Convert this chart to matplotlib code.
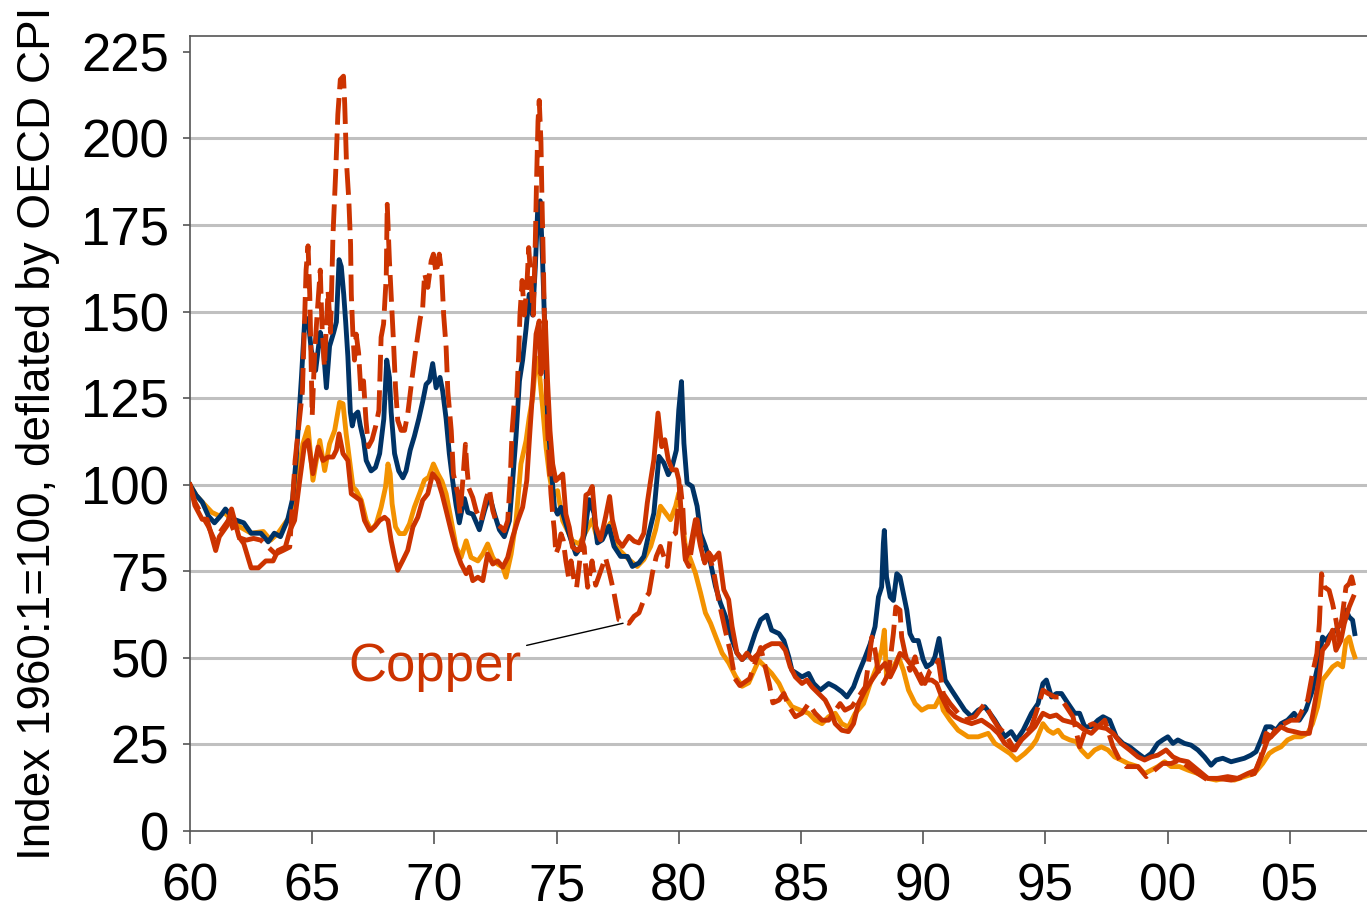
import matplotlib
matplotlib.use("Agg")
import matplotlib.pyplot as plt
from matplotlib import font_manager

# 실질 가격 지수 (1960:1 = 100, OECD CPI로 디플레이트)
blue_t = [1960.0, 1960.25, 1960.5, 1960.75, 1961.0, 1961.25, 1961.45, 1961.8, 1962.2, 1962.5, 1962.9, 1963.2,
          1963.45, 1963.7, 1964.0, 1964.2, 1964.35, 1964.56, 1964.69, 1964.83, 1964.96, 1965.14, 1965.33, 1965.44,
          1965.58, 1965.71, 1965.88, 1965.99, 1966.1, 1966.19, 1966.29, 1966.37, 1966.46, 1966.56, 1966.64, 1966.73,
          1966.87, 1966.97, 1967.1, 1967.21, 1967.41, 1967.59, 1967.76, 1967.93, 1968.05, 1968.16, 1968.23, 1968.37,
          1968.54, 1968.71, 1968.84, 1969.01, 1969.18, 1969.36, 1969.52, 1969.66, 1969.8, 1969.93, 1970.07, 1970.23,
          1970.34, 1970.48, 1970.61, 1970.75, 1970.89, 1971.02, 1971.16, 1971.23, 1971.37, 1971.57, 1971.84, 1972.05,
          1972.25, 1972.46, 1972.66, 1972.86, 1973.07, 1973.2, 1973.34, 1973.48, 1973.61, 1973.75, 1973.88, 1974.02,
          1974.13, 1974.23, 1974.33, 1974.43, 1974.54, 1974.63, 1974.77, 1974.91, 1975.04, 1975.18, 1975.38, 1975.59,
          1975.79, 1976.0, 1976.15, 1976.33, 1976.53, 1976.67, 1976.87, 1977.14, 1977.35, 1977.62, 1977.9, 1978.1,
          1978.37, 1978.57, 1978.78, 1978.98, 1979.19, 1979.39, 1979.57, 1979.73, 1979.9, 1980.0, 1980.11, 1980.21,
          1980.34, 1980.55, 1980.75, 1980.89, 1981.09, 1981.3, 1981.5, 1981.7, 1981.91, 1982.18, 1982.38, 1982.59,
          1982.86, 1983.13, 1983.35, 1983.6, 1983.8, 1984.1, 1984.3, 1984.5, 1984.63, 1984.83, 1985.04, 1985.31,
          1985.52, 1985.79, 1986.13, 1986.4, 1986.67, 1986.88, 1987.15, 1987.35, 1987.63, 1987.83, 1988.03, 1988.17,
          1988.3, 1988.37, 1988.41, 1988.5, 1988.65, 1988.78, 1988.92, 1989.05, 1989.19, 1989.33, 1989.46, 1989.6,
          1989.8, 1990.0, 1990.14, 1990.35, 1990.48, 1990.65, 1990.76, 1990.9, 1991.16, 1991.43, 1991.7, 1991.98,
          1992.25, 1992.52, 1992.73, 1992.93, 1993.34, 1993.6, 1993.82, 1994.09, 1994.43, 1994.7, 1994.9, 1995.04,
          1995.25, 1995.45, 1995.66, 1995.93, 1996.2, 1996.4, 1996.61, 1996.88, 1997.15, 1997.36, 1997.63, 1997.9,
          1998.17, 1998.45, 1998.79, 1999.06, 1999.33, 1999.6, 1999.8, 2000.01, 2000.22, 2000.42, 2000.69, 2000.96,
          2001.24, 2001.51, 2001.78, 2001.99, 2002.26, 2002.6, 2002.87, 2003.14, 2003.41, 2003.62, 2003.82, 2004.03,
          2004.23, 2004.44, 2004.64, 2004.91, 2005.18, 2005.39, 2005.66, 2005.93, 2006.14, 2006.34, 2006.48, 2006.68,
          2006.89, 2007.09, 2007.3, 2007.43, 2007.57, 2007.66]
blue_v = [100, 97, 95, 91, 89, 91, 93, 90, 89, 86, 86, 83.5,
          86, 85, 90, 96, 108, 131, 147, 148, 139, 133, 144, 141,
          128, 140, 144, 147, 165, 163, 155, 147, 137, 121, 117, 120,
          121, 117, 113, 107, 104, 105, 109, 119, 136, 131, 121, 109,
          104, 102, 104, 110, 114, 119, 124, 129, 130, 135, 128, 131,
          127, 119, 109, 101, 94, 89, 94, 96, 92, 91.5, 87, 92.5,
          97, 91.5, 87, 85, 89.6, 101, 114, 130, 136, 145, 155, 149,
          163, 180, 182, 164, 140, 120, 106, 93.5, 91.5, 93.5, 88.7, 84,
          80, 82, 86, 95.7, 91.8, 83.2, 84.1, 88, 82.2, 79.3, 79.3, 76.4,
          77.4, 79.3, 86, 91.8, 108.2, 106.3, 102.9, 105.3, 110, 121.6, 129.8, 112,
          100.5, 99.5, 93.8, 86, 82.2, 77.4, 70.7, 65.9, 62, 55.3, 51.4, 49.5,
          51.4, 57.2, 61, 62.3, 58, 57, 55, 50.3, 46.4, 45.5, 44.5, 45.5,
          42.6, 40.7, 42.6, 41.6, 40.2, 38.7, 41.6, 45.5, 50.3, 54, 59, 67.6,
          70.5, 83, 86.8, 73.4, 67.6, 66.6, 74.3, 73.4, 68.6, 63.8, 57, 55,
          55, 49.5, 47.4, 48.4, 50.3, 55.6, 50.3, 43.6, 40.7, 37.8, 34.9, 33,
          34.9, 35.9, 34, 32, 27.2, 28.7, 26.3, 29.1, 34, 36.8, 42.6, 43.6,
          38.7, 39.7, 39.7, 36.8, 34, 34, 30.1, 30.1, 32, 33, 32, 27.2,
          25.3, 24.3, 22.4, 21, 22.4, 25.3, 26.3, 27.2, 25.3, 26.3, 25.3, 24.8,
          23.4, 21.4, 19, 20.5, 21, 20, 20.5, 21, 21.9, 22.9, 26.3, 30.1,
          30.1, 29.1, 31, 32, 34, 32, 35, 40.7, 47.4, 56, 55, 57,
          58, 59.9, 63.8, 61.8, 60.9, 57]

orange_t = [1960.0, 1960.25, 1960.5, 1960.9, 1961.2, 1961.4, 1961.7, 1962.0, 1962.5, 1963.0, 1963.3, 1963.6,
            1964.1, 1964.35, 1964.62, 1964.83, 1965.03, 1965.31, 1965.51, 1965.71, 1965.92, 1966.12, 1966.26, 1966.39,
            1966.53, 1966.67, 1966.8, 1967.01, 1967.21, 1967.41, 1967.62, 1967.82, 1968.0, 1968.1, 1968.19, 1968.27,
            1968.41, 1968.57, 1968.78, 1968.98, 1969.18, 1969.39, 1969.59, 1969.77, 1969.96, 1970.14, 1970.31, 1970.48,
            1970.68, 1970.89, 1971.09, 1971.3, 1971.5, 1971.78, 1971.98, 1972.18, 1972.39, 1972.59, 1972.8, 1972.93,
            1973.14, 1973.34, 1973.54, 1973.75, 1973.88, 1974.02, 1974.16, 1974.29, 1974.43, 1974.57, 1974.7, 1974.84,
            1975.04, 1975.25, 1975.45, 1975.65, 1975.93, 1976.2, 1976.46, 1976.67, 1976.94, 1977.21, 1977.42, 1977.69,
            1977.96, 1978.3, 1978.57, 1978.85, 1979.05, 1979.25, 1979.46, 1979.66, 1979.87, 1980.0, 1980.14, 1980.27,
            1980.48, 1980.68, 1980.89, 1981.09, 1981.3, 1981.5, 1981.77, 1982.04, 1982.32, 1982.59, 1982.86, 1983.27,
            1983.54, 1983.8, 1984.1, 1984.36, 1984.63, 1984.97, 1985.31, 1985.58, 1985.86, 1986.13, 1986.4, 1986.67,
            1986.94, 1987.22, 1987.56, 1987.83, 1988.1, 1988.3, 1988.41, 1988.5, 1988.72, 1988.99, 1989.19, 1989.4,
            1989.67, 1989.94, 1990.2, 1990.48, 1990.69, 1990.82, 1991.1, 1991.43, 1991.84, 1992.25, 1992.66, 1992.93,
            1993.34, 1993.55, 1993.82, 1994.16, 1994.43, 1994.63, 1994.9, 1995.11, 1995.32, 1995.52, 1995.72, 1996.0,
            1996.27, 1996.47, 1996.74, 1997.02, 1997.29, 1997.56, 1997.83, 1998.1, 1998.38, 1998.79, 1999.06, 1999.33,
            1999.6, 1999.88, 2000.15, 2000.49, 2000.83, 2001.24, 2001.65, 2001.99, 2002.33, 2002.73, 2003.14, 2003.55,
            2003.89, 2004.16, 2004.37, 2004.64, 2004.91, 2005.18, 2005.46, 2005.73, 2005.93, 2006.14, 2006.34, 2006.55,
            2006.75, 2006.96, 2007.16, 2007.3, 2007.43, 2007.57, 2007.66]
orange_v = [100, 97, 95, 92, 91, 92, 90, 88, 86, 86.5, 84, 86,
            91, 99.3, 111.8, 116.6, 101.3, 112.8, 104.1, 111.8, 115.7, 123.8, 123.4, 114.7,
            107, 99.3, 98.4, 95.5, 89.7, 86.8, 88.7, 93.5, 99.3, 106, 103.2, 94.5,
            87.8, 85.9, 85.9, 88.7, 93.5, 97.4, 101.3, 102.2, 106, 103.2, 101, 97.4,
            90, 82, 79, 83.8, 79, 78, 80, 82.9, 79, 77.1, 76.2, 73.3,
            80, 89.6, 106, 112.7, 119.4, 125.2, 136.7, 132.9, 122.3, 110.8, 103.1, 97.3,
            98.3, 89.6, 86.7, 83.8, 82.9, 86.5, 89.9, 84.1, 86, 89, 82.2, 80.3,
            78.4, 76.4, 78.4, 82.2, 87, 93.8, 91.8, 89.9, 93.8, 97.6, 89.9, 82.2,
            78.4, 74.5, 68.8, 63, 60, 56.3, 51.4, 48.6, 44.7, 41.8, 42.8, 49.3,
            47.4, 45.5, 42.6, 38.7, 35.9, 34.9, 34, 32, 31, 33, 34, 31,
            30, 34, 36.8, 42.6, 47.4, 52.2, 58, 44.5, 46.4, 50.3, 46.4, 40.7,
            36.8, 34.9, 35.9, 35.9, 38.7, 34.9, 32, 29.1, 27.2, 27.2, 28.2, 25.3,
            23.4, 22.4, 20.5, 22.4, 24.3, 26.3, 31, 29.1, 28.2, 29.1, 27.2, 26.3,
            25.8, 23.4, 21.4, 23.4, 24.3, 23.4, 21.4, 20.5, 19.5, 18.6, 16.6, 17.6,
            18.6, 20, 18.6, 18.6, 17.6, 16.6, 15.2, 14.7, 15.2, 14.7, 15.7, 16.6,
            19.5, 22.4, 23.4, 24.3, 26.3, 27.2, 27.2, 28.2, 31, 35.9, 43.6, 45.5,
            47.4, 48.4, 47.4, 55, 56, 52.2, 50.3]

red_t = [1960.0, 1960.2, 1960.5, 1960.7, 1961.05, 1961.2, 1961.5, 1961.7, 1962.0, 1962.2, 1962.5, 1962.8,
         1963.1, 1963.4, 1963.6, 1963.9, 1964.1, 1964.28, 1964.49, 1964.69, 1964.83, 1965.03, 1965.24, 1965.44,
         1965.65, 1965.85, 1965.99, 1966.1, 1966.26, 1966.46, 1966.6, 1966.8, 1966.97, 1967.14, 1967.35, 1967.55,
         1967.76, 1967.96, 1968.1, 1968.23, 1968.37, 1968.5, 1968.71, 1968.91, 1969.12, 1969.32, 1969.52, 1969.73,
         1969.93, 1970.14, 1970.31, 1970.48, 1970.68, 1970.89, 1971.09, 1971.3, 1971.43, 1971.57, 1971.78, 1971.98,
         1972.18, 1972.39, 1972.59, 1972.8, 1973.0, 1973.2, 1973.41, 1973.61, 1973.78, 1973.91, 1974.05, 1974.16,
         1974.29, 1974.36, 1974.46, 1974.54, 1974.63, 1974.73, 1974.84, 1974.97, 1975.11, 1975.25, 1975.38, 1975.52,
         1975.65, 1975.86, 1976.06, 1976.2, 1976.33, 1976.46, 1976.6, 1976.8, 1977.01, 1977.17, 1977.28, 1977.48,
         1977.69, 1977.96, 1978.17, 1978.37, 1978.57, 1978.71, 1978.85, 1978.98, 1979.15, 1979.3, 1979.43, 1979.57,
         1979.73, 1979.9, 1980.0, 1980.14, 1980.27, 1980.48, 1980.68, 1980.89, 1981.06, 1981.23, 1981.43, 1981.64,
         1981.84, 1982.04, 1982.18, 1982.38, 1982.59, 1982.79, 1983.0, 1983.27, 1983.54, 1983.8, 1984.15, 1984.36,
         1984.56, 1984.77, 1985.04, 1985.24, 1985.45, 1985.72, 1985.99, 1986.2, 1986.4, 1986.67, 1986.94, 1987.15,
         1987.35, 1987.63, 1987.9, 1988.17, 1988.44, 1988.65, 1988.85, 1989.05, 1989.26, 1989.46, 1989.67, 1989.94,
         1990.14, 1990.35, 1990.55, 1990.76, 1991.03, 1991.3, 1991.57, 1991.98, 1992.39, 1992.8, 1993.07, 1993.34,
         1993.68, 1994.02, 1994.3, 1994.57, 1994.9, 1995.18, 1995.45, 1995.72, 1996.0, 1996.27, 1996.61, 1996.88,
         1997.15, 1997.5, 1997.77, 1998.1, 1998.45, 1998.79, 1999.06, 1999.33, 1999.6, 1999.94, 2000.22, 2000.49,
         2000.83, 2001.24, 2001.65, 2002.05, 2002.46, 2002.87, 2003.28, 2003.62, 2003.89, 2004.09, 2004.37, 2004.64,
         2004.91, 2005.18, 2005.46, 2005.8, 2006.0, 2006.21, 2006.34, 2006.55, 2006.75, 2006.89, 2007.09, 2007.23,
         2007.43, 2007.6]
red_v = [100, 94, 90, 90, 81, 85, 88, 93, 85, 83, 76, 76,
         78, 78, 81, 82, 87, 89.7, 101.3, 111.8, 112.8, 103.2, 110.9, 107,
         108, 108, 110, 114.7, 109, 107, 97.4, 96.4, 95.5, 89.7, 86.8, 87.8,
         89.7, 90.6, 89.7, 83.9, 79.1, 75.3, 78.2, 81.1, 87.8, 90.6, 95.5, 97.4,
         103.2, 101.3, 97.4, 92.6, 86.8, 81.1, 77.2, 74.3, 76.2, 72.3, 73.3, 72.3,
         80, 77.1, 78, 76.2, 79, 84.8, 89.6, 93.5, 101.2, 115.6, 130, 143.5,
         147.3, 132, 141.5, 147.3, 130, 115.6, 106, 101.2, 102.1, 103.1, 91.5, 87.7,
         82, 81, 82.9, 97, 97.6, 99.5, 88, 84.1, 90.9, 96.6, 89.9, 84.1,
         82.2, 85.1, 83.7, 83.2, 86, 94.7, 101.4, 107.2, 120.7, 111, 113, 107.2,
         104.3, 104.3, 101.4, 88, 78.4, 82.2, 89.9, 82.2, 77.4, 80.3, 78.4, 80.3,
         69.7, 66.8, 59.1, 51.4, 49.5, 51.4, 49.5, 51.3, 53.2, 54.1, 54.1, 52.2,
         47.4, 44.5, 42.6, 43.6, 41.6, 39.7, 37.8, 34.9, 31, 29.1, 28.7, 31,
         36.8, 40.7, 43.6, 46.4, 48.4, 44.5, 47.4, 51.3, 50.3, 48.4, 46.4, 42.6,
         43.6, 43.6, 42.6, 38.7, 34.9, 33, 32, 31, 32, 30, 28.2, 25.3,
         23.4, 26.3, 28.2, 30.1, 34, 33, 33.5, 32, 31.5, 31, 29.1, 28.2,
         30.1, 29.6, 28.2, 25.3, 23.4, 21.4, 20.5, 21.4, 21.9, 23.4, 21.4, 20.5,
         20, 17.6, 15.2, 15.2, 15.7, 15.2, 16.6, 17.6, 22.4, 26.3, 28.2, 30.1,
         29.1, 28.7, 28.2, 28.2, 35.9, 44.5, 52.2, 54.1, 58, 52.2, 55, 59.9,
         64.7, 67.6]

copper_t = [1960.0, 1960.2, 1960.5, 1960.75, 1961.0, 1961.3, 1961.6, 1961.9, 1962.3, 1962.6, 1962.9, 1963.2,
            1963.5, 1963.8, 1964.08, 1964.3, 1964.6, 1964.7, 1964.75, 1964.83, 1964.9, 1965.0, 1965.1, 1965.2,
            1965.33, 1965.4, 1965.5, 1965.65, 1965.75, 1965.85, 1965.96, 1966.05, 1966.15, 1966.28, 1966.33, 1966.4,
            1966.5, 1966.57, 1966.6, 1966.67, 1966.73, 1966.8, 1966.9, 1967.0, 1967.1, 1967.2, 1967.3, 1967.45,
            1967.6, 1967.73, 1967.82, 1967.92, 1968.03, 1968.07, 1968.16, 1968.23, 1968.33, 1968.41, 1968.5, 1968.64,
            1968.78, 1968.91, 1969.09, 1969.25, 1969.42, 1969.52, 1969.6, 1969.73, 1969.87, 1969.96, 1970.07, 1970.2,
            1970.3, 1970.38, 1970.48, 1970.55, 1970.69, 1970.78, 1970.96, 1971.05, 1971.16, 1971.27, 1971.33, 1971.41,
            1971.57, 1971.71, 1971.91, 1972.12, 1972.25, 1972.39, 1972.55, 1972.73, 1972.86, 1973.0, 1973.1, 1973.18,
            1973.27, 1973.37, 1973.45, 1973.5, 1973.59, 1973.68, 1973.78, 1973.86, 1973.95, 1974.05, 1974.13, 1974.18,
            1974.24, 1974.29, 1974.36, 1974.4, 1974.46, 1974.51, 1974.57, 1974.63, 1974.7, 1974.77, 1974.84, 1974.91,
            1974.97, 1975.08, 1975.18, 1975.27, 1975.38, 1975.49, 1975.59, 1975.72, 1975.82, 1975.93, 1976.04, 1976.13,
            1976.2, 1976.27, 1976.45, 1976.6, 1976.8, 1977.0, 1977.15, 1977.35, 1977.55, 1977.75, 1977.96, 1978.17,
            1978.37, 1978.57, 1978.78, 1978.92, 1979.08, 1979.25, 1979.53, 1979.66, 1979.87, 1980.0, 1980.07, 1980.17,
            1980.27, 1980.41, 1980.62, 1980.75, 1980.89, 1981.02, 1981.23, 1981.45, 1981.65, 1981.9, 1982.1, 1982.3,
            1982.5, 1982.7, 1982.9, 1983.14, 1983.35, 1983.55, 1983.7, 1983.85, 1984.1, 1984.3, 1984.5, 1984.77,
            1985.04, 1985.31, 1985.58, 1985.86, 1986.13, 1986.33, 1986.6, 1986.8, 1987.08, 1987.35, 1987.63, 1987.9,
            1988.03, 1988.17, 1988.37, 1988.58, 1988.78, 1988.88, 1989.05, 1989.12, 1989.26, 1989.46, 1989.67, 1989.8,
            1990.07, 1990.28, 1990.48, 1990.62, 1990.82, 1991.1, 1991.43, 1991.7, 1992.12, 1992.52, 1992.8, 1993.07,
            1993.34, 1993.75, 1994.09, 1994.43, 1994.7, 1994.9, 1995.11, 1995.38, 1995.59, 1995.86, 1996.13, 1996.4,
            1996.68, 1996.95, 1997.15, 1997.43, 1997.77, 1998.04, 1998.31, 1998.79, 1999.13, 1999.47, 1999.8, 2000.15,
            2000.49, 2000.83, 2001.24, 2001.65, 2002.05, 2002.6, 2003.14, 2003.55, 2003.82, 2004.03, 2004.23, 2004.5,
            2004.78, 2005.05, 2005.32, 2005.52, 2005.73, 2005.93, 2006.11, 2006.21, 2006.3, 2006.41, 2006.61, 2006.75,
            2006.89, 2007.02, 2007.16, 2007.3, 2007.43, 2007.53, 2007.66]
copper_v = [100, 95, 91, 88, 84, 87, 90, 85, 84, 84.5, 84, 82,
            80, 81, 82, 107, 127, 150, 162, 169, 155, 120, 138, 149,
            162, 146, 134, 156, 144, 172, 190, 207, 217, 218, 210, 193.5,
            182, 169.5, 155, 142.6, 136, 143.5, 138, 126, 130, 118.6, 111, 113,
            117, 121.5, 142.6, 146.4, 160, 181, 164.7, 155, 140.7, 128, 118.6, 115.7,
            115.7, 120.5, 131, 139.7, 148, 151, 161, 157, 164.7, 166.6, 161, 166.6,
            161, 149, 139.6, 127, 115.6, 103, 97.3, 91.5, 101, 111.7, 105, 99,
            96.3, 92.5, 89.6, 96, 98.8, 92.5, 88.7, 87.7, 86.7, 89.6, 101, 115.6,
            124, 125, 137.7, 149, 159, 149, 157, 168.5, 159, 149, 170.4, 187.7,
            205, 211, 199, 183, 163.7, 144.4, 130, 116.5, 106, 97.4, 91.5, 86.7,
            80, 82, 85.8, 84, 78, 73.3, 78, 72.3, 70.4, 77, 84, 82,
            75.2, 70.4, 78, 71, 75, 79, 75, 68.7, 61, 60.5, 60, 62,
            63, 66.8, 68.7, 74.5, 79.3, 82.2, 76.4, 85, 86, 95.7, 99.5, 92.8,
            78.4, 76.4, 86, 89.9, 84, 78.4, 80.3, 74, 66, 58, 52, 44,
            42, 43, 44, 49, 53, 47, 42.6, 37, 37.8, 39.7, 36, 33,
            34, 36.8, 34, 32, 32, 34, 36.8, 34.9, 35.9, 38.7, 41.6, 56,
            52.2, 45.5, 42.6, 45.5, 57, 64.7, 63.8, 56, 51.3, 46.4, 50.3, 46.4,
            42.6, 46.4, 47.4, 49.3, 39.7, 36.8, 34, 32, 33, 36.8, 33, 30,
            28.2, 23.4, 27.2, 30.1, 35.9, 40.7, 39.7, 38.7, 38.7, 35.9, 33, 24.3,
            30.1, 31, 30.1, 32, 24.3, 20.5, 18.6, 18.6, 15.7, 17.6, 19.5, 19.5,
            20.5, 18.6, 16.6, 14.7, 15.2, 14.7, 15.7, 16.6, 21.4, 28.2, 27.2, 30.1,
            31, 32, 32, 35, 37.8, 45.5, 51.3, 59.9, 74.3, 70.5, 69.5, 65.7,
            60.9, 55, 62.8, 70.5, 71.4, 73.4, 69.5]

year_ticks = [1960, 1965, 1970, 1975, 1980, 1985, 1990, 1995, 2000, 2005]
year_labels = ["60", "65", "70", "75", "80", "85", "90", "95", "00", "05"]
y_ticks = [0, 25, 50, 75, 100, 125, 150, 175, 200, 225]

c_blue = "#003366"
c_orange = "#f39200"
c_red = "#cc3300"

names = {f.name for f in font_manager.fontManager.ttflist}
narrow = "Liberation Sans Narrow" if "Liberation Sans Narrow" in names else "Liberation Sans"
plt.rcParams['font.family'] = ['Liberation Sans', 'DejaVu Sans']

fig = plt.figure(figsize=(13.67, 9.15), dpi=100)
ax = fig.add_axes([190 / 1367, 84 / 915, 1177 / 1367, 795 / 915])

lw = 3.5
ax.plot(orange_t, orange_v, color=c_orange, lw=lw, zorder=3)
ax.plot(blue_t, blue_v, color=c_blue, lw=lw, zorder=4)
ax.plot(red_t, red_v, color=c_red, lw=lw, zorder=5)
ax.plot(copper_t, copper_v, color=c_red, lw=lw, dashes=(5.5, 1.8), zorder=6)

ax.set_xlim(1960, 2008.16)
ax.set_ylim(0, 229.6)
ax.set_xticks(year_ticks)
ax.set_xticklabels(year_labels)
ax.set_yticks(y_ticks)

# 가로 격자선 (0과 225 제외)
for v in y_ticks[1:-1]:
    ax.axhline(v, color="#c0c0c0", lw=2.2, zorder=1)

for s in ax.spines.values():
    s.set_color("#555555")
    s.set_linewidth(1.2)
ax.spines['right'].set_visible(False)

ax.tick_params(axis='x', direction='out', length=9, width=1.2, color="#555555",
               labelsize=37, pad=14)
ax.tick_params(axis='y', direction='out', length=5, width=1.2, color="#555555",
               labelsize=38, pad=10)

fig.text(38 / 1367, 1 - 433 / 915, "Index 1960:1=100, deflated by OECD CPI",
         rotation=90, ha='center', va='center', fontsize=33, family=narrow)

ax.annotate("Copper", xy=(1977.72, 60.0), xytext=(1973.55, 47.5),
            ha='right', va='center', fontsize=38, color=c_red,
            arrowprops=dict(arrowstyle='-', color='black', lw=1.0, shrinkA=2, shrinkB=0))

fig.savefig("out.png", dpi=100)
